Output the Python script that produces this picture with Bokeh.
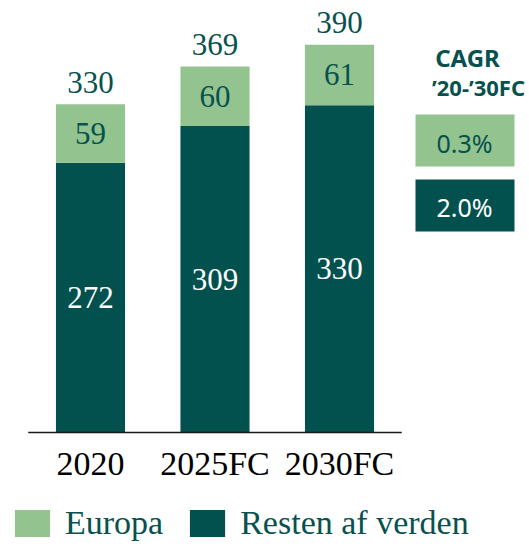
from bokeh.plotting import figure
from bokeh.models import ColumnDataSource, Legend, LegendItem, Range1d
from bokeh.core.properties import value
from bokeh.embed import file_html
from bokeh.resources import INLINE

# ---- data ----
categories = ["2020", "2025FC", "2030FC"]
europa = [59, 60, 61]
resten = [272, 309, 330]
totals = [330, 369, 390]
cagr_labels = ["0.3%", "2.0%"]
cagr_title = ["CAGR", "’20-’30FC"]
series_names = ["Europa", "Resten af verden"]

LIGHT = "#93c48f"
DARK = "#02514f"
TEAL_TXT = "#07514e"

W, H = 529, 547
PX_X = 124.5   # pixels per category slot
PX_Y = 0.992   # pixels per unit
BASE_IMG_Y = 432
X0_IMG = 90

def dx(img_x):
    return (img_x - X0_IMG) / PX_X

def dy(img_y):
    return (BASE_IMG_Y - img_y) / PX_Y

x_start = dx(0)

p = figure(width=W, height=H, output_backend="svg", toolbar_location=None,
           x_range=Range1d(x_start, x_start + W / PX_X),
           y_range=Range1d(dy(H), dy(0)),
           min_border=0, min_border_left=0, min_border_right=0,
           min_border_top=0, min_border_bottom=0)
p.axis.visible = False
p.grid.visible = False
p.outline_line_color = None
p.background_fill_color = None
p.border_fill_color = "white"

xs = list(range(len(categories)))
src = ColumnDataSource(dict(x=xs, resten=resten, europa=europa, cat=categories))
rs = p.vbar_stack(["resten", "europa"], x="x", width=0.555, color=[DARK, LIGHT],
                  line_color=None, source=src)

# axis line
p.segment(x0=[xs[0] - 0.5], y0=[0], x1=[xs[-1] + 0.5], y1=[0],
          line_color="#1a1a1a", line_width=1.6)

serif = value("Liberation Serif")

# segment labels
p.text(x=xs, y=[r / 2 for r in resten], text=[str(v) for v in resten],
       text_font=serif, text_font_size="31px", text_color="white",
       text_align="center", text_baseline="middle")
p.text(x=xs, y=[r + e / 2 for r, e in zip(resten, europa)], text=[str(v) for v in europa],
       text_font=serif, text_font_size="31px", text_color=TEAL_TXT,
       text_align="center", text_baseline="middle")
# totals
p.text(x=xs, y=[r + e + 22 / PX_Y for r, e in zip(resten, europa)], text=[str(v) for v in totals],
       text_font=serif, text_font_size="31px", text_color=TEAL_TXT,
       text_align="center", text_baseline="middle")
# category labels
p.text(x=xs, y=[-31 / PX_Y] * len(xs), text=categories,
       text_font=serif, text_font_size="34px", text_color="black",
       text_align="center", text_baseline="middle")

# CAGR panel
p.text(x=[dx(467)], y=[dy(57)], text=[cagr_title[0]],
       text_font=value("Noto Sans"), text_font_style="bold", text_font_size="24px",
       text_color=TEAL_TXT, text_align="center", text_baseline="middle")
p.text(x=[dx(478)], y=[dy(86)], text=[cagr_title[1]],
       text_font=value("Noto Sans"), text_font_style="bold", text_font_size="22px",
       text_color=TEAL_TXT, text_align="center", text_baseline="middle")
p.rect(x=[dx(464.5)] * 2, y=[dy(140), dy(205)], width=99 / PX_X, height=52 / PX_Y,
       fill_color=[LIGHT, DARK], line_color=None)
p.text(x=[dx(464)] * 2, y=[dy(142), dy(206)], text=cagr_labels,
       text_font=value("Noto Sans"), text_font_size="25px",
       text_color=[TEAL_TXT, "white"], text_align="center", text_baseline="middle")

legend = Legend(items=[LegendItem(label=series_names[0], renderers=[rs[1]]),
                       LegendItem(label=series_names[1], renderers=[rs[0]])],
                location=(10, 5), orientation="horizontal",
                glyph_width=44, glyph_height=34, label_height=34,
                label_standoff=11, spacing=22, padding=0, margin=0,
                border_line_color=None, background_fill_alpha=0,
                label_text_font="Liberation Serif", label_text_font_size="34px",
                label_text_color=TEAL_TXT)
p.add_layout(legend, "center")

open("out.html", "w").write(file_html(p, INLINE))
